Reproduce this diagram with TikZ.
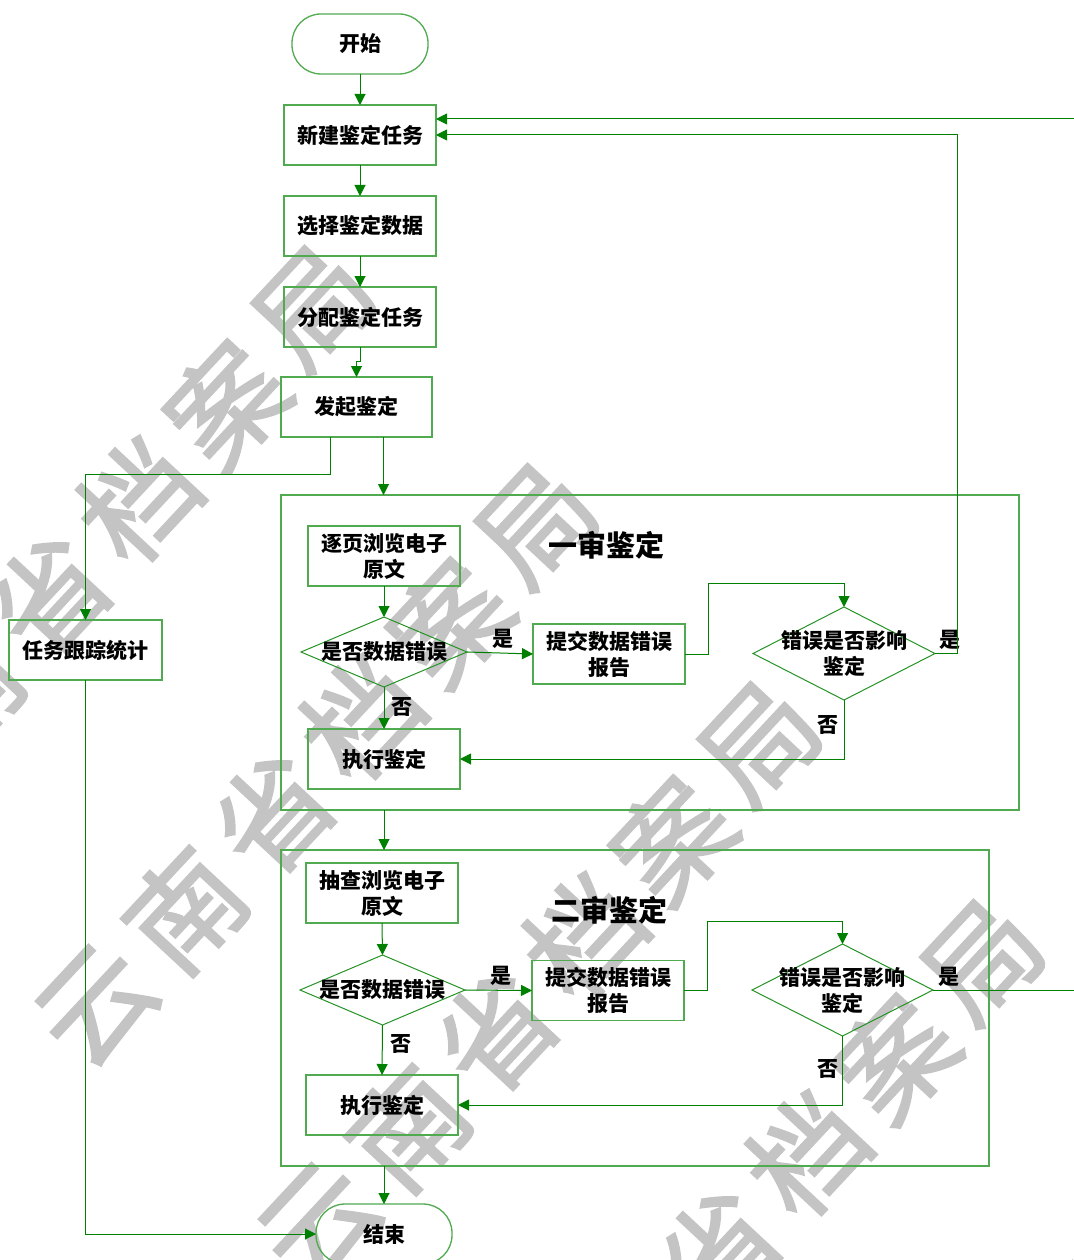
\documentclass[tikz,border=0pt]{standalone}
\usepackage{fontspec}
\setmainfont{Noto Sans CJK SC}
\newfontfamily\wmfont{Noto Sans CJK SC}[FakeBold=2]
\usetikzlibrary{arrows.meta,shapes.geometric}
\definecolor{boxg}{RGB}{80,170,80}
\definecolor{lineg}{RGB}{0,128,0}
\definecolor{wmg}{RGB}{196,196,196}
\begin{document}
\begin{tikzpicture}[x=1pt,y=-1pt,
  every node/.style={font=\fontsize{21}{26}\selectfont\bfseries, text=black},
  box/.style={draw=boxg, line width=1.3pt, minimum width=152pt, minimum height=60pt, inner sep=0pt, outer sep=0pt, align=center},
  capsule/.style={box, minimum width=136pt, rounded corners=29pt},
  dia/.style={diamond, draw=lineg!85!white, line width=1pt, inner sep=0pt, outer sep=0pt},
  cont/.style={draw=boxg, line width=1.3pt, inner sep=0pt, outer sep=0pt},
  conn/.style={draw=lineg, line width=1pt, -{Triangle[length=11pt,width=11pt]}},
  lab/.style={inner sep=0pt, align=center},
  ttl/.style={inner sep=0pt, font=\fontsize{29}{34}\selectfont\bfseries},
  wm/.style={text=wmg, font=\wmfont\fontsize{114}{114}\selectfont, rotate=47, inner sep=0pt}
]
\useasboundingbox (0,0) rectangle (1073,1260);
\fill[white] (0,0) rectangle (1073,1260);
% watermark
\begin{scope}
\clip (0,0) rectangle (1073,1260);
\foreach \k in {0,...,4} {
  \foreach \c [count=\i from 0] in {云,南,省,档,案,局} {
    \node[wm] (wm\k\i) at ({314+223*\k-88*(5-\i)}, {308+218*\k+96*(5-\i)}) {\c};
  }
}
\end{scope}
% top chain
\node[capsule] (start) at (360,44) {开始};
\node[box] (n1) at (360,135) {新建鉴定任务};
\node[box] (n2) at (360,226) {选择鉴定数据};
\node[box] (n3) at (360,317) {分配鉴定任务};
\node[box, minimum width=151pt] (n4) at (356.5,407) {发起鉴定};
\node[box, minimum width=153pt] (track) at (85.5,650) {任务跟踪统计};
% section 1
\node[cont, minimum width=738pt, minimum height=315pt] (c1) at (650,652.5) {};
\node[box] (e1) at (384,556) {逐页浏览电子\\原文};
\node[dia, minimum width=166pt, minimum height=70pt] (d1) at (384,652) {};
\node[lab] (d1t) at (d1) {是否数据错误};
\node[box] (r1) at (609,654) {提交数据错误\\报告};
\node[dia, minimum width=182pt, minimum height=93pt] (d2) at (844,653.5) {};
\node[lab] (d2t) at (d2) {错误是否影响\\鉴定};
\node[box] (x1) at (384,759) {执行鉴定};
\node[ttl] (t1) at (606,545) {一审鉴定};
\node[lab] (y1) at (503,639) {是};
\node[lab] (y2) at (950,640) {是};
\node[lab] (no1) at (402,707) {否};
\node[lab] (no2) at (828,725) {否};
% section 2
\node[cont, minimum width=708pt, minimum height=316pt] (c2) at (635,1008) {};
\node[box] (e2) at (382,893) {抽查浏览电子\\原文};
\node[dia, minimum width=165pt, minimum height=70pt] (d3) at (382.5,990) {};
\node[lab] (d3t) at (d3) {是否数据错误};
\node[box] (r2) at (608,990.5) {提交数据错误\\报告};
\node[dia, minimum width=181pt, minimum height=92pt] (d4) at (842.5,990) {};
\node[lab] (d4t) at (d4) {错误是否影响\\鉴定};
\node[box] (x2) at (382,1105) {执行鉴定};
\node[ttl] (t2) at (609,910) {二审鉴定};
\node[lab] (y3) at (501,976) {是};
\node[lab] (y4) at (949,977) {是};
\node[lab] (no3) at (401,1044) {否};
\node[lab] (no4) at (828,1069) {否};
\node[capsule] (end) at (384,1234) {结束};
% connectors
\draw[conn] (start.south) -- (n1.north);
\draw[conn] (n1.south) -- (n2.north);
\draw[conn] (n2.south) -- (n3.north);
\draw[conn] (n3.south) -- ++(0,14) -| (n4.north);
\draw[conn] ([xshift=-26pt]n4.south) -- ++(0,37) -| (track.north);
\draw[conn] ([xshift=27pt]n4.south) -- ([xshift=27pt]n4.south |- c1.north);
\draw[conn] (track.south) |- (end.west);
\draw[conn] (e1.south) -- (d1.north);
\draw[conn] (d1.east) -- (r1.west);
\draw[conn] (r1.east) -- ++(23,0) -- ++(0,-71) -| (d2.north);
\draw[conn] (d2.east) -- ++(22,0) |- (n1.east);
\draw[conn] (d2.south) |- (x1.east);
\draw[conn] (d1.south) -- (x1.north);
\draw[conn] (c1.south -| x1.south) -- (c2.north -| x1.south);
\draw[conn] (e2.south) -- (d3.north);
\draw[conn] (d3.east) -- (r2.west);
\draw[conn] (r2.east) -- ++(23,0) -- ++(0,-69) -| (d4.north);
\draw[conn] (d4.east) -- ++(170,0) |- ([yshift=16pt]n1.east);
\draw[conn] (d4.south) |- (x2.east);
\draw[conn] (d3.south) -- (x2.north);
\draw[conn] (c2.south -| end.north) -- (end.north);
\end{tikzpicture}
\end{document}
